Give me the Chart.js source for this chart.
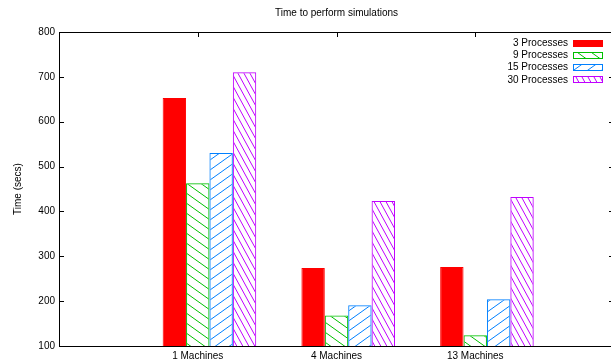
<!DOCTYPE html>
<html><head><meta charset="utf-8">
<script src="https://cdn.jsdelivr.net/npm/chart.js@4/dist/chart.umd.min.js"></script>
<style>
html,body{margin:0;padding:0;background:#fff;overflow:hidden;width:611px;height:363px;}
#wrap{width:620px;height:363px;}
canvas{display:block;}
</style></head><body>
<div id="wrap"><canvas id="c" width="620" height="363"></canvas></div>
<script>
const chartTitle = 'Time to perform simulations';
const yTitle = 'Time (secs)';
const categories = ['1 Machines', '4 Machines', '13 Machines'];
const seriesNames = ['3 Processes', '9 Processes', '15 Processes', '30 Processes'];
const p3 = [653, 274, 276];
const p9 = [463, 168, 124];
const p15 = [530, 191, 204];
const p30 = [710, 423, 432];
const yMin = 100, yMax = 800, yStep = 100;

const FONT = '"Liberation Sans", Arial, Helvetica, sans-serif';
const colors = ['#ff0000', '#00c000', '#0080ff', '#c000ff'];

function hatch(color, w, h, dir) {
  const c = document.createElement('canvas');
  c.width = w; c.height = h;
  const g = c.getContext('2d');
  g.strokeStyle = color; g.lineWidth = 1;
  g.beginPath();
  for (let k = -1; k <= 1; k++) {
    if (dir === 'back') { g.moveTo(k*w - w, -h); g.lineTo(k*w + 2*w, 2*h); }
    else { g.moveTo(k*w - w, 2*h); g.lineTo(k*w + 2*w, -h); }
  }
  g.stroke();
  return g.createPattern(c, 'repeat');
}
const fills = [colors[0], hatch(colors[1], 14, 10, 'back'), hatch(colors[2], 14, 10, 'fwd'), hatch(colors[3], 6, 11, 'back')];

const labels = ['', ...categories, ''];
const pad = arr => [null, ...arr, null];
const seriesValues = [p3, p9, p15, p30];

const datasets = [{ label: '', data: pad([null, null, null]), backgroundColor: 'rgba(0,0,0,0)', borderWidth: 0, categoryPercentage: 0.843, barPercentage: 1 }];
seriesNames.forEach((name, i) => {
  datasets.push({
    label: name,
    data: pad(seriesValues[i]),
    backgroundColor: fills[i],
    borderColor: colors[i],
    borderWidth: 1,
    categoryPercentage: 0.843,
    barPercentage: 1
  });
});

const framePlugin = {
  id: 'gnuframe',
  afterDatasetsDraw(chart) {
    const ctx = chart.ctx, a = chart.chartArea;
    const xs = chart.scales.x, ys = chart.scales.y;
    ctx.save();
    ctx.strokeStyle = '#000'; ctx.lineWidth = 1;
    ctx.beginPath();
    ys.ticks.forEach(t => {
      const py = Math.round(ys.getPixelForValue(t.value)) + 0.5;
      ctx.moveTo(a.left, py); ctx.lineTo(a.left + 5, py);
      ctx.moveTo(a.right, py); ctx.lineTo(a.right - 5, py);
    });
    labels.forEach((l, i) => {
      if (!l) return;
      const px = Math.round(xs.getPixelForValue(i)) + 0.5;
      ctx.moveTo(px, a.top); ctx.lineTo(px, a.top + 5);
    });
    ctx.stroke();
    ctx.strokeRect(Math.round(a.left) + 0.5, Math.round(a.top) + 0.5, Math.round(a.right - a.left), Math.round(a.bottom - a.top));
    ctx.restore();
  },
  afterDraw(chart) {
    const ctx = chart.ctx, a = chart.chartArea;
    ctx.save();
    ctx.font = '10px ' + FONT;
    ctx.textAlign = 'right'; ctx.textBaseline = 'middle';
    let r = 0;
    chart.data.datasets.forEach(ds => {
      if (!ds.label) return;
      const cy = a.top + 11.3 + r * 12.2;
      ctx.fillStyle = '#000';
      ctx.fillText(ds.label, a.right - 46, cy);
      const bx = a.right - 41, bw = 30, bh = 7, by = Math.round(cy - 3.5);
      ctx.fillStyle = ds.backgroundColor;
      ctx.fillRect(bx, by, bw, bh);
      ctx.strokeStyle = ds.borderColor; ctx.lineWidth = 1;
      ctx.strokeRect(bx + 0.5, by + 0.5, bw - 1, bh - 1);
      r++;
    });
    ctx.restore();
  }
};

new Chart(document.getElementById('c'), {
  type: 'bar',
  data: { labels, datasets },
  options: {
    responsive: false,
    animation: false,
    events: [],
    layout: { padding: { left: 0, right: 6, top: 0, bottom: 0 } },
    plugins: {
      legend: { display: false },
      tooltip: { enabled: false },
      title: {
        display: true, text: chartTitle, fullSize: false, color: '#000',
        font: { family: FONT, size: 10, weight: 'normal' },
        padding: { top: 7, bottom: 13 }
      }
    },
    scales: {
      x: {
        type: 'category', offset: false,
        grid: { display: false, drawTicks: false, tickLength: 0 }, border: { display: false },
        ticks: { font: { family: FONT, size: 10 }, color: '#000', padding: 4, maxRotation: 0, autoSkip: false },
        afterFit: s => { s.height = 17; }
      },
      y: {
        type: 'linear', min: yMin, max: yMax,
        grid: { display: false, drawTicks: false, tickLength: 0 }, border: { display: false },
        ticks: { stepSize: yStep, font: { family: FONT, size: 10 }, color: '#000', padding: 4 },
        title: { display: true, text: yTitle, color: '#000', font: { family: FONT, size: 10 }, padding: { top: 12, bottom: 0 } },
        afterFit: s => { s.width = 59; }
      }
    }
  },
  plugins: [framePlugin]
});
</script>
</body></html>
